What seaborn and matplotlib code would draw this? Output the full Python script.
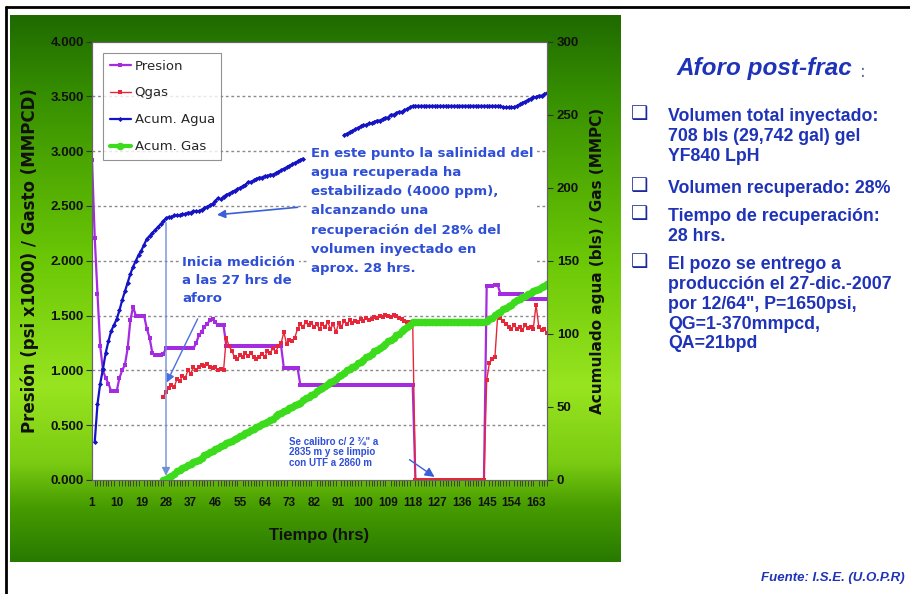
import numpy as np
import pandas as pd
import seaborn as sns
import matplotlib.pyplot as plt
from matplotlib.colors import to_rgb

# ---- data (hours 1..167) ----
presion = [2.92, 2.21, 1.70, 1.22, 1.00, 0.93, 0.88, 0.81, 0.81, 0.81,
           0.93, 1.00, 1.05, 1.20, 1.46, 1.58, 1.50, 1.50, 1.50, 1.50,
           1.38, 1.30, 1.16, 1.14, 1.14, 1.14, 1.15, 1.20, 1.20, 1.20,
           1.20, 1.20, 1.20, 1.20, 1.20, 1.20, 1.20, 1.20, 1.25, 1.32,
           1.35, 1.40, 1.42, 1.46, 1.47, 1.44, 1.41, 1.41, 1.41, 1.22,
           1.22, 1.22, 1.22, 1.22, 1.22, 1.22, 1.22, 1.22, 1.22, 1.22,
           1.22, 1.22, 1.22, 1.22, 1.22, 1.22, 1.22, 1.22, 1.22, 1.22,
           1.02, 1.02, 1.02, 1.02, 1.02, 1.02, 0.87, 0.87, 0.87, 0.87,
           0.87, 0.87, 0.87, 0.87, 0.87, 0.87, 0.87, 0.87, 0.87, 0.87,
           0.87, 0.87, 0.87, 0.87, 0.87, 0.87, 0.87, 0.87, 0.87, 0.87,
           0.87, 0.87, 0.87, 0.87, 0.87, 0.87, 0.87, 0.87, 0.87, 0.87,
           0.87, 0.87, 0.87, 0.87, 0.87, 0.87, 0.87, 0.87, 0.00, 0.00,
           0.00, 0.00, 0.00, 0.00, 0.00, 0.00, 0.00, 0.00, 0.00, 0.00,
           0.00, 0.00, 0.00, 0.00, 0.00, 0.00, 0.00, 0.00, 0.00, 0.00,
           0.00, 0.00, 0.00, 0.00, 1.77, 1.77, 1.77, 1.78, 1.78, 1.70,
           1.70, 1.70, 1.70, 1.70, 1.70, 1.70, 1.70, 1.70, 1.65, 1.65,
           1.65, 1.65, 1.65, 1.65, 1.65, 1.65, 1.65]

# Qgas, hours 27..167
qgas = [0.76, 0.80, 0.84, 0.87,
        0.85, 0.92, 0.90, 0.95, 0.93, 1.00, 0.97, 1.03, 1.00, 1.03,
        1.05, 1.04, 1.06, 1.03, 1.02, 1.03, 1.00, 1.01, 1.00, 1.30,
        1.22, 1.18, 1.12, 1.10, 1.14, 1.12, 1.16, 1.13, 1.16, 1.12,
        1.10, 1.12, 1.15, 1.12, 1.18, 1.16, 1.20, 1.17, 1.22, 1.25,
        1.35, 1.24, 1.28, 1.27, 1.30, 1.38, 1.42, 1.40, 1.44, 1.41,
        1.43, 1.40, 1.42, 1.38, 1.42, 1.40, 1.44, 1.38, 1.42, 1.35,
        1.43, 1.40, 1.45, 1.42, 1.46, 1.43, 1.45, 1.44, 1.47, 1.45,
        1.48, 1.46, 1.47, 1.49, 1.48, 1.50, 1.49, 1.51, 1.50, 1.49,
        1.51, 1.50, 1.48, 1.47, 1.45, 1.44, 1.44, 1.43, 0.00, 0.00,
        0.00, 0.00, 0.00, 0.00, 0.00, 0.00, 0.00, 0.00, 0.00, 0.00,
        0.00, 0.00, 0.00, 0.00, 0.00, 0.00, 0.00, 0.00, 0.00, 0.00,
        0.00, 0.00, 0.00, 0.00, 0.91, 1.07, 1.10, 1.12, 1.50, 1.48,
        1.45, 1.42, 1.40, 1.38, 1.41, 1.38, 1.40, 1.37, 1.41, 1.39,
        1.40, 1.38, 1.60, 1.40, 1.37, 1.38, 1.34]

# Acum. Agua, hours 2..78 and 93..167 (middle part hidden behind the note)
agua_a = [26, 52, 66, 76, 87, 95, 102, 106, 110,
          116, 123, 129, 135, 141, 146, 150, 154, 157, 161,
          165, 167, 169, 171, 173, 175, 177, 179, 180, 180,
          181, 181, 181, 182, 182, 183, 183, 184, 184, 184,
          185, 186, 187, 188, 189, 191, 193, 192, 194, 195,
          196, 197, 198, 199, 200, 201, 202, 204, 204, 205,
          206, 207, 207, 208, 208, 209, 209, 210, 211, 212,
          213, 214, 215, 216, 217, 218, 219, 220]
agua_b = [236, 237, 238, 239, 240, 241, 242, 243,
          243, 244, 244, 245, 246, 246, 247, 248, 248, 250,
          250, 251, 252, 252, 253, 254, 255, 256, 256, 256,
          256, 256, 256, 256, 256, 256, 256, 256, 256, 256,
          256, 256, 256, 256, 256, 256, 256, 256, 256, 256,
          256, 256, 256, 256, 256, 256, 256, 256, 256, 256,
          255, 255, 255, 255, 255, 256, 257, 258, 259, 260,
          261, 262, 262, 263, 263, 264, 265]

# Acum. Gas, hours 27..167
gas = [0, 1, 2, 3,
       4, 6, 7, 8, 9, 10, 11, 12, 13, 14,
       15, 17, 18, 19, 20, 21, 22, 23, 24, 25,
       26, 27, 28, 29, 30, 31, 32, 33, 34, 35,
       36, 37, 38, 39, 40, 41, 42, 44, 45, 46,
       47, 48, 49, 50, 51, 52, 53, 55, 56, 57,
       58, 59, 61, 62, 63, 64, 66, 67, 68, 69,
       71, 72, 73, 75, 76, 77, 78, 80, 81, 82,
       84, 85, 86, 88, 89, 90, 92, 93, 95, 96,
       97, 99, 100, 102, 103, 105, 106, 108, 108, 108,
       108, 108, 108, 108, 108, 108, 108, 108, 108, 108,
       108, 108, 108, 108, 108, 108, 108, 108, 108, 108,
       108, 108, 108, 108, 109, 110, 111, 113, 114, 115,
       117, 118, 119, 120, 122, 123, 124, 125, 126, 127,
       128, 129, 130, 131, 132, 133, 134]

hours = list(range(1, 168))
hours_q = list(range(27, 168))
hours_a = list(range(2, 79))
hours_b = list(range(93, 168))

x_ticks = list(range(1, 168, 9))
y_ticks = [0, 0.5, 1.0, 1.5, 2.0, 2.5, 3.0, 3.5, 4.0]
y2_ticks = [0, 50, 100, 150, 200, 250, 300]

c_pres = '#a42be0'
c_qgas = '#e8263a'
c_agua = '#1414c4'
c_gas = '#3cdc1c'
c_note = '#2f4fd6'
c_text = '#1f33b8'

sns.set_theme(style="white")
plt.rcParams['font.family'] = ['DejaVu Sans']
arial = ['Liberation Sans', 'DejaVu Sans']
W, H = 910, 594

fig = plt.figure(figsize=(9.1, 5.94), dpi=100)
fig.patch.set_facecolor('white')

# green gradient panel behind the chart
bg = fig.add_axes([10 / W, 1 - 562 / H, 611 / W, 547 / H], zorder=0)
stops = [(0.0, '#1f6a00'), (0.15, '#379000'), (0.45, '#6cc806'),
         (0.68, '#98e420'), (0.82, '#7acb12'), (0.9, '#479c00'), (1.0, '#287a00')]
pos = np.linspace(0, 1, 300)
grad = np.stack([np.interp(pos, [s[0] for s in stops], [to_rgb(s[1])[k] for s in stops])
                 for k in range(3)], axis=-1)[:, None, :]
bg.imshow(grad, aspect='auto', extent=[0, 1, 1, 0])
bg.set_axis_off()

# slide border (left and top)
fig.add_artist(plt.Line2D([6 / W, 6 / W], [0, 1 - 7 / H], color='black', lw=2))
fig.add_artist(plt.Line2D([6 / W, 1], [1 - 7 / H, 1 - 7 / H], color='black', lw=2))

ax = fig.add_axes([92 / W, 1 - 480 / H, 455 / W, 438.4 / H], zorder=2)
ax.set_facecolor('white')
ax2 = ax.twinx()

sns.lineplot(x=hours, y=presion, ax=ax, color=c_pres, lw=1.6, marker='s', markersize=3,
             markeredgewidth=0, label='Presion', legend=False)
sns.lineplot(x=hours_q, y=qgas, ax=ax, color=c_qgas, lw=1.0, marker='s', markersize=2.6,
             markeredgewidth=0, label='Qgas', legend=False)
sns.lineplot(x=hours_a, y=agua_a, ax=ax2, color=c_agua, lw=1.6, marker='D', markersize=2.6,
             markeredgewidth=0, label='Acum. Agua', legend=False)
sns.lineplot(x=hours_b, y=agua_b, ax=ax2, color=c_agua, lw=1.6, marker='D', markersize=2.6,
             markeredgewidth=0, legend=False)
sns.lineplot(x=hours_q, y=gas, ax=ax2, color=c_gas, lw=3, marker='o', markersize=5.5,
             markeredgewidth=0, label='Acum. Gas', legend=False)

ax.set_xlim(1, 167)
ax.set_ylim(0, 4)
ax2.set_ylim(0, 300)
ax.set_yticks(y_ticks)
ax.set_yticklabels([f'{v:.3f}' for v in y_ticks])
ax2.set_yticks(y2_ticks)
ax.set_xticks(x_ticks)
ax.set_xticks(hours, minor=True)
for v in y_ticks[1:-1]:
    ax.axhline(v, color='#8a8a8a', lw=1, ls=(0, (2, 2)), zorder=0)

for a in (ax, ax2):
    for s in a.spines.values():
        s.set_color('#666666')
        s.set_linewidth(0.8)
ax.tick_params(axis='both', which='major', direction='out', length=4, width=0.8,
               color='#333333', pad=2)
ax.tick_params(axis='x', which='minor', direction='out', length=4, width=0.6,
               color='#333333', bottom=True)
ax.tick_params(axis='x', which='major', pad=8)
ax2.tick_params(axis='y', direction='out', length=4, width=0.8, color='#333333', pad=3)
for lab in ax.get_yticklabels() + ax2.get_yticklabels():
    lab.set_fontfamily(arial)
    lab.set_fontweight('bold')
    lab.set_fontsize(9.5)
    lab.set_color('#111111')
for lab in ax.get_xticklabels():
    lab.set_fontfamily(arial)
    lab.set_fontweight('bold')
    lab.set_fontsize(8.5)
    lab.set_color('#111111')

ax.set_xlabel('Tiempo (hrs)', fontsize=12, fontweight='bold', family=arial,
              color='#111111', labelpad=14)
ax.set_ylabel('Presión (psi x1000) / Gasto (MMPCD)', fontsize=12, fontweight='bold',
              color='#111111', labelpad=8)
ax2.set_ylabel('Acumulado agua (bls) / Gas (MMPC)', fontsize=11, fontweight='bold',
               color='#111111', labelpad=8)

h1, l1 = ax.get_legend_handles_labels()
h2, l2 = ax2.get_legend_handles_labels()
leg = ax2.legend(h1 + h2, l1 + l2, loc='upper left', bbox_to_anchor=(0.024, 0.974),
                 borderaxespad=0, frameon=True, fancybox=False, fontsize=9.5,
                 labelspacing=1.05, handlelength=1.6, handletextpad=0.3,
                 borderpad=0.5)
leg.get_frame().set_edgecolor('#777777')
leg.get_frame().set_linewidth(0.8)
leg.set_zorder(10)

# notes on the chart
note_kw = dict(color=c_note, fontweight='bold', ha='left', va='top', zorder=8,
               bbox=dict(boxstyle='square,pad=0.25', fc='white', ec='none'))
ax2.text(81, 228, 'En este punto la salinidad del\nagua recuperada ha\n'
         'estabilizado (4000 ppm),\nalcanzando una\nrecuperación del 28% del\n'
         'volumen inyectado en\naprox. 28 hrs.', fontsize=9.5, linespacing=1.62, **note_kw)
ax2.annotate('', xy=(45.6, 181.3), xytext=(77, 186.8), zorder=9,
             arrowprops=dict(arrowstyle='-|>', color='#3a5fd8', lw=1.2, mutation_scale=12))
ax2.text(34, 153, 'Inicia medición\na las 27 hrs de\naforo', fontsize=9.5,
         linespacing=1.5, **note_kw)
ax2.annotate('', xy=(27.8, 65), xytext=(40, 112), zorder=9,
             arrowprops=dict(arrowstyle='-|>', color='#4a6fe0', lw=1.0, mutation_scale=12))
ax2.annotate('', xy=(28, 1), xytext=(28, 178), zorder=9,
             arrowprops=dict(arrowstyle='-|>', color='#6f8fd8', lw=1.0, mutation_scale=12))
ax2.text(73, 30, 'Se calibro c/ 2 ¾" a\n2835 m y se limpio\ncon UTF a 2860 m',
         fontsize=7, linespacing=1.1, family=arial, **note_kw)
ax2.annotate('', xy=(126.8, 1), xytext=(116, 15), zorder=9,
             arrowprops=dict(arrowstyle='-|>', color='#3a5fd8', lw=1.0, mutation_scale=14))

# right-hand text panel
def fx(px):
    return px / W


def fy(py):
    return 1 - py / H


fig.text(fx(677), fy(68), 'Aforo post-frac', fontsize=17.5, fontweight='bold',
         fontstyle='italic', family=arial, color=c_text, va='center', ha='left')
fig.text(fx(860), fy(72), ':', fontsize=12, color='#5a6a9a', va='center', ha='left')

items = [(117, 'Volumen total inyectado:\n708 bls (29,742 gal) gel\nYF840 LpH'),
         (189, 'Volumen recuperado: 28%'),
         (217, 'Tiempo de recuperación:\n28 hrs.'),
         (265, 'El pozo se entrego a\nproducción el 27-dic.-2007\npor 12/64", P=1650psi,\n'
               'QG=1-370mmpcd,\nQA=21bpd')]
for py, txt in items:
    fig.text(fx(631), fy(py - 3), '❑', fontsize=14, color='#1c2a9a', va='center', ha='left')
    fig.text(fx(668), fy(py - 9), txt, fontsize=12.8, fontweight='bold',
             family=arial, color=c_text, va='top', ha='left', linespacing=1.22)

fig.text(fx(905), fy(578), 'Fuente: I.S.E. (U.O.P.R)', fontsize=9.5, fontweight='bold',
         fontstyle='italic', family=arial, color=c_text, va='center', ha='right')

fig.savefig('out.png', dpi=100)
